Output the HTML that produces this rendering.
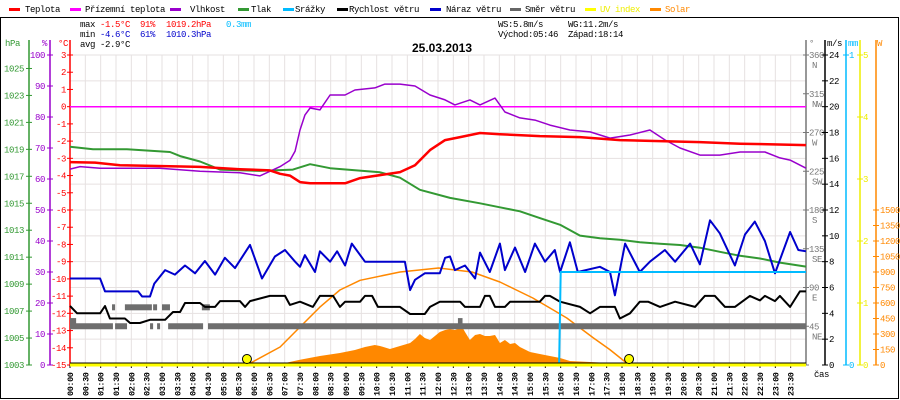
<!DOCTYPE html>
<html><head><meta charset="utf-8"><style>
html,body{margin:0;padding:0;background:#fff}
svg{display:block;font-family:"Liberation Mono",monospace}
</style></head><body>
<svg id="c" width="900" height="400" viewBox="0 0 900 400" xmlns="http://www.w3.org/2000/svg">
<rect x="0.5" y="17.5" width="898" height="381" fill="#fff" stroke="#000"/>
<g id="grid"></g>
<g id="legend" font-size="9" letter-spacing="-0.4">
 <g><rect x="9" y="8" width="11" height="3" fill="#f00"/><text x="25" y="12">Teplota</text></g>
 <g><rect x="70" y="8" width="11" height="3" fill="#f0f"/><text x="85" y="12">Přízemní teplota</text></g>
 <g><rect x="170" y="8" width="11" height="3" fill="#90c"/><text x="190" y="12">Vlhkost</text></g>
 <g><rect x="238" y="8" width="11" height="3" fill="#393"/><text x="251" y="12">Tlak</text></g>
 <g><rect x="283" y="8" width="11" height="3" fill="#0bf"/><text x="295" y="12">Srážky</text></g>
 <g><rect x="337" y="8" width="11" height="3" fill="#000"/><text x="349" y="12">Rychlost větru</text></g>
 <g><rect x="430" y="8" width="11" height="3" fill="#00c"/><text x="446" y="12">Náraz větru</text></g>
 <g><rect x="510" y="8" width="11" height="3" fill="#666"/><text x="525" y="12">Směr větru</text></g>
 <g><rect x="585" y="8" width="11" height="3" fill="#ff0"/><text x="600" y="12" fill="#ee0">UV index</text></g>
 <g><rect x="650" y="8" width="11" height="3" fill="#f80"/><text x="665" y="12" fill="#f80">Solar</text></g>
</g>
<g font-size="9" letter-spacing="-0.4">
 <text x="80" y="27">max <tspan fill="#f00">-1.5°C</tspan></text><text x="140" y="27" fill="#f00">91%</text><text x="166" y="27" fill="#f00">1019.2hPa</text><text x="226" y="27" fill="#0bf">0.3mm</text>
 <text x="80" y="37">min <tspan fill="#00c">-4.6°C</tspan></text><text x="140" y="37" fill="#00c">61%</text><text x="166" y="37" fill="#00c">1010.3hPa</text>
 <text x="80" y="47">avg -2.9°C</text>
 <text x="498" y="27">WS:5.8m/s</text><text x="568" y="27">WG:11.2m/s</text>
 <text x="498" y="37">Východ:05:46</text><text x="568" y="37">Západ:18:14</text>
</g>
<text x="442" y="52" text-anchor="middle" font-family="Liberation Sans, sans-serif" font-weight="bold" font-size="12">25.03.2013</text>
<g id="axes" font-size="9" letter-spacing="-0.4"></g>
<g id="series"></g>
</svg>
<script>
// ---- data ----
const tempT=[0,0.82,1.63,4.24,5.54,6.52,6.85,7.17,7.5,7.83,8.97,9.46,10.76,11.25,11.74,12.23,12.72,13.37,14.02,15.32,16.63,17.93,19.24,20.54,21.85,24];
const tempV=[-3.22,-3.25,-3.4,-3.5,-3.63,-3.7,-3.9,-4.0,-4.38,-4.45,-4.45,-4.15,-3.8,-3.4,-2.52,-1.94,-1.77,-1.53,-1.6,-1.71,-1.77,-1.94,-2.0,-2.06,-2.15,-2.23];
const feelT=[0,24];
const feelV=[0,0];
const humT=[0,0.33,0.98,1.96,2.93,4.24,5.54,6.19,6.52,6.85,7.17,7.34,7.5,7.66,7.83,8.15,8.48,8.97,9.29,9.94,10.27,10.76,11.25,11.74,12.23,12.55,13.04,13.37,13.86,14.18,14.67,15.16,15.65,16.3,16.96,17.61,18.26,18.91,19.4,19.89,20.54,21.19,21.85,22.66,23.15,23.48,24];
const humV=[63.2,64,63.5,63.5,63.5,62.5,62,61,62.5,64,66,69,75.8,80.6,82.9,82.3,87.1,87.1,88.7,89.4,90.6,90.6,90,87.1,85.5,83.9,85.5,83.9,86.1,81.6,79.7,79,77.4,75.8,75.2,73.2,74.2,75.8,72.6,70,67.7,67.7,68.7,68.7,66.8,66.1,63.5];
const presT=[0,0.75,1.86,3.26,3.59,4.24,4.89,6.19,7.27,7.83,8.48,10.11,10.76,11.41,12.39,13.37,14.02,14.67,15.32,15.98,16.63,17.28,17.93,18.58,19.24,19.89,20.54,21.19,21.85,22.5,23.15,24];
const presV=[1019.2,1019.0,1019.0,1018.8,1018.5,1018.1,1017.5,1017.4,1017.5,1017.9,1017.6,1017.3,1016.9,1016.0,1015.4,1015.0,1014.7,1014.4,1013.9,1013.4,1012.6,1012.4,1012.3,1012.1,1012.0,1011.9,1011.7,1011.4,1011.1,1010.9,1010.6,1010.3];
const gustT=[0,0.98,1.14,2.22,2.35,2.61,2.75,3.10,3.42,3.75,4.08,4.40,4.73,5.05,5.38,5.87,6.26,6.68,7.01,7.34,7.50,7.66,7.99,8.15,8.48,8.71,8.97,9.19,9.62,10.92,11.09,11.25,11.57,12.06,12.23,12.39,12.55,12.88,13.21,13.37,13.69,14.02,14.18,14.51,14.84,15.16,15.49,15.81,15.98,16.30,16.56,17.28,17.61,17.77,18.10,18.58,18.91,19.40,19.73,20.22,20.54,20.87,21.19,21.68,22.01,22.33,22.66,22.99,23.48,23.75,24];
const gustV=[6.7,6.7,5.7,5.7,5.3,5.3,6.3,7.35,7.0,7.7,7.1,8.05,7.0,8.3,7.5,9.3,6.7,8.4,8.9,8.0,7.6,8.5,7.2,8.8,8.0,8.8,7.7,9.4,8.0,8.0,5.8,6.6,7.1,7.1,8.3,8.4,7.35,7.7,6.7,8.7,7.2,9.4,7.35,9.1,7.2,9.4,8.0,8.9,7.2,9.5,7.2,7.6,7.2,5.4,9.4,7.2,8.0,8.9,8.0,9.4,7.8,11.2,10.2,7.7,10.1,11.1,9.6,7.1,10.3,8.9,8.8];
const windT=[0,0.23,0.98,1.14,1.3,1.79,1.96,2.28,2.61,3.1,3.36,3.59,3.75,4.24,4.4,4.73,4.89,5.54,5.71,5.87,6.52,7.01,7.17,7.5,7.92,8.15,8.58,8.8,8.97,9.46,9.62,9.85,10.04,10.76,11.09,11.57,11.74,12.06,12.72,12.88,13.37,13.53,13.69,13.86,14.18,14.35,15.32,15.49,15.65,15.98,16.63,16.96,17.28,17.77,17.93,18.26,18.58,18.85,19.24,19.73,20.38,20.7,21.03,21.36,21.68,22.17,22.5,22.66,22.99,23.15,23.48,23.8,24];
const windV=[4.57,4.0,4.0,4.57,3.6,3.6,3.25,3.25,3.5,3.5,4.1,4.1,4.8,4.8,4.5,4.5,4.95,4.95,4.5,4.95,5.35,5.35,4.65,4.9,4.5,5.35,5.35,4.5,4.9,4.9,5.35,5.35,4.5,4.5,3.95,3.95,4.5,4.9,4.9,4.5,4.5,5.35,5.35,4.5,4.5,4.9,4.9,5.35,5.35,4.9,4.5,4.0,4.5,4.5,3.6,4.0,4.9,4.9,4.5,4.9,4.5,5.35,5.35,4.5,4.5,5.35,5.0,5.35,4.95,5.35,4.5,5.7,5.7];
const dirStart=[0,1.47,2.61,2.84,3.2,4.5,1.37,1.79,2.71,3.0,4.3,12.65,0];
const dirEnd=[1.4,1.86,2.71,2.93,4.34,24,1.47,2.67,2.84,3.26,4.56,12.8,0.2];
const dirValue=[45,45,45,45,45,45,67,67,67,67,67,51,51];
const solarT=[6.0,6.19,7.01,7.5,8.15,8.8,9.29,9.62,9.94,10.11,10.43,10.76,11.09,11.25,11.41,11.57,11.74,11.9,12.06,12.23,12.39,12.55,12.72,12.81,12.88,13.04,13.21,13.37,13.53,13.69,13.86,14.02,14.18,14.35,14.51,14.67,15.0,15.32,15.65,15.98,16.3,16.96,17.61,18.26,18.58];
const solarV=[0,10,19,50,87,116,145,174,194,184,155,184,213,252,300,261,242,281,319,339,348,339,358,358,319,242,290,300,281,281,290,213,242,203,213,174,126,106,87,68,39,29,19,10,0];
const theoT=[5.77,6.85,7.5,8.15,8.8,9.46,10.76,12.02,13.11,14.02,15.09,15.65,16.2,17.07,17.6,18.23];
const theoV=[0,174,368,560,726,820,900,939,900,803,648,552,455,261,150,0];
const rainT=[0,15.95,16.0,24];
const rainV=[0,0,0.3,0.3];
const uvT=[0,24];
const uvV=[0,0];
const sunEvents=[5.77,18.23];
const hpaTicks=[1003,1005,1007,1009,1011,1013,1015,1017,1019,1021,1023,1025];
const humTicks=[0,10,20,30,40,50,60,70,80,90,100];
const tempTicks=[3,2,1,0,-1,-2,-3,-4,-5,-6,-7,-8,-9,-10,-11,-12,-13,-14,-15];
const dirTicks=[0,45,90,135,180,225,270,315,360];
const dirNames=["","NE","E","SE","S","SW","W","NW","N"];
const msTicks=[0,2,4,6,8,10,12,14,16,18,20,22,24];
const mmTicks=[0,1];
const uvTicks=[0,1,2,3,4,5];
const wTicks=[0,150,300,450,600,750,900,1050,1200,1350,1500];
// ---- scales ----
const X0=70,X1=806,YT=55,YB=365,H=YB-YT;
const xs=h=>X0+h*(X1-X0)/24;
const yT=c=>YT+(3-c)*H/18;
const yH=p=>YB-p*H/100;
const yP=p=>YB-(p-1003)*H/23;
const yV=v=>YB-v*H/24;
const yD=d=>YB-d*H/360;
const yR=m=>YB-m*H;
const yU=u=>YB-u*H/5;
const yW=w=>YB-w*H/3000;
const NS="http://www.w3.org/2000/svg";
function mk(tag,attrs,parent){const e=document.createElementNS(NS,tag);for(const k in attrs)e.setAttribute(k,attrs[k]);parent.appendChild(e);return e;}
const grid=document.getElementById('grid'),axes=document.getElementById('axes'),ser=document.getElementById('series');
// grid
for(let i=0;i<=48;i++){const x=xs(i/2);const l=mk('line',{x1:x,x2:x,y1:YT,y2:YB,stroke:'#e6e1e1','stroke-width':1},grid);

}
msTicks.forEach(v=>{const y=yV(v);const l=mk('line',{x1:X0,x2:X1,y1:y,y2:y,stroke:'#e6e1e1','stroke-width':1},grid);

});
// axis helper
function axis(name,x,color,ticks,yf,labelX,anchor,fmt){
 const g=mk('g',{},axes);
 
 
 mk('line',{x1:x,x2:x,y1:40,y2:YB,stroke:color,'stroke-width':1.5},g);
 ticks.forEach((t,i)=>{const y=yf(t);mk('line',{x1:x-3,x2:x+3,y1:y,y2:y,stroke:color},g);
  const tx=mk('text',{x:labelX,y:y+3,fill:color,'text-anchor':anchor},g);tx.textContent=fmt?fmt(t,i):t;
  
  });
 return g;}
axis('pressure-axis',29,'#393',hpaTicks,yP,24,'end');
axis('humidity-axis',50,'#90c',humTicks,yH,45,'end');
axis('temperature-axis',70,'#f00',tempTicks,yT,66,'end');
const gd=axis('direction-axis',806,'#777',dirTicks,yD,809,'start',t=>t===0?'':t);
dirTicks.forEach((t,i)=>{if(!dirNames[i])return;const tx=mk('text',{x:812,y:yD(t)+13,fill:'#777'},gd);tx.textContent=dirNames[i];});
axis('wind-speed-axis',825,'#000',msTicks,yV,829,'start');
axis('rain-axis',846,'#0bf',mmTicks,yR,849,'start');
axis('uv-axis',860,'#ee0',uvTicks,yU,863,'start');
const gw=mk('g',{},axes);


mk('line',{x1:876,x2:876,y1:40,y2:YB,stroke:'#f80','stroke-width':1.5},gw);
wTicks.forEach(t=>{const y=yW(t);mk('line',{x1:873,x2:879,y1:y,y2:y,stroke:'#f80'},gw);const tx=mk('text',{x:880,y:y+3,fill:'#f80'},gw);tx.textContent=t;});
[['hPa',5,'#393'],['%',42,'#90c'],['°C',58,'#f00'],['°',809,'#777'],['m/s',827,'#000'],['mm',848,'#0bf'],['W',877,'#f80']].forEach(a=>{const tx=mk('text',{x:a[1],y:46,fill:a[2]},axes);tx.textContent=a[0];

});
const cas=mk('text',{x:814,y:377},axes);cas.textContent='čas';


// time labels
for(let i=0;i<48;i++){const h=Math.floor(i/2),m=i%2?'30':'00';const x=xs(i/2)+3;
 mk('line',{x1:x-3,x2:x-3,y1:YB,y2:YB+3,stroke:'#000'},axes);
 const tx=mk('text',{x:0,y:0,transform:`translate(${x},396) rotate(-90)`,'font-size':8.5,'font-weight':'bold'},axes);
 tx.textContent=(h<10?'0':'')+h+':'+m;
 
 }
// series
function line(name,T,V,yf,color,w){const d=T.map((t,i)=>(i?'L':'M')+xs(t).toFixed(1)+' '+yf(V[i]).toFixed(1)).join('');
 const p=mk('path',{d:d,fill:'none',stroke:color,'stroke-width':w,'stroke-linejoin':'round'},ser);
 
 return p;}
// solar area
{const d='M'+xs(solarT[0])+' '+YB+solarT.map((t,i)=>'L'+xs(t).toFixed(1)+' '+yW(solarV[i]).toFixed(1)).join('')+'L'+xs(solarT[solarT.length-1])+' '+YB+'Z';
 const p=mk('path',{d:d,fill:'#f80'},ser);
 
 }
line('solar-theoretical-line',theoT,theoV,yW,'#f80',1.5);
dirStart.forEach((s,i)=>{const y=yD(dirValue[i]);const r=mk('rect',{x:xs(s),y:y-3,width:Math.max(3,xs(dirEnd[i])-xs(s)),height:6,fill:'#6e6e6e'},ser);
 
 });
line('pressure-line',presT,presV,yP,'#393',2);
line('feels-like-line',feelT,feelV,yT,'#f0f',1.5);
line('humidity-line',humT,humV,yH,'#90c',1.5);
line('temperature-line',tempT,tempV,yT,'#f00',2.5);
line('wind-speed-line',windT,windV,yV,'#000',2);
line('wind-gust-line',gustT,gustV,yV,'#00c',2);
{const d=rainT.map((t,i)=>(i?'L':'M')+xs(t).toFixed(1)+' '+yR(rainV[i]).toFixed(1)).join('');
 const p=mk('path',{d:d,fill:'none',stroke:'#0bf','stroke-width':2},ser);
 
 }
line('uv-line',uvT,uvV,yU,'#ff0',3);
mk('line',{x1:X0,x2:X1,y1:YB-2,y2:YB-2,stroke:'#000','stroke-width':1},ser);
sunEvents.forEach(t=>{const c=mk('circle',{cx:xs(t),cy:YB-6,r:4.5,fill:'#ff0',stroke:'#000','stroke-width':1},ser);
 
 });
</script>
</body></html>
